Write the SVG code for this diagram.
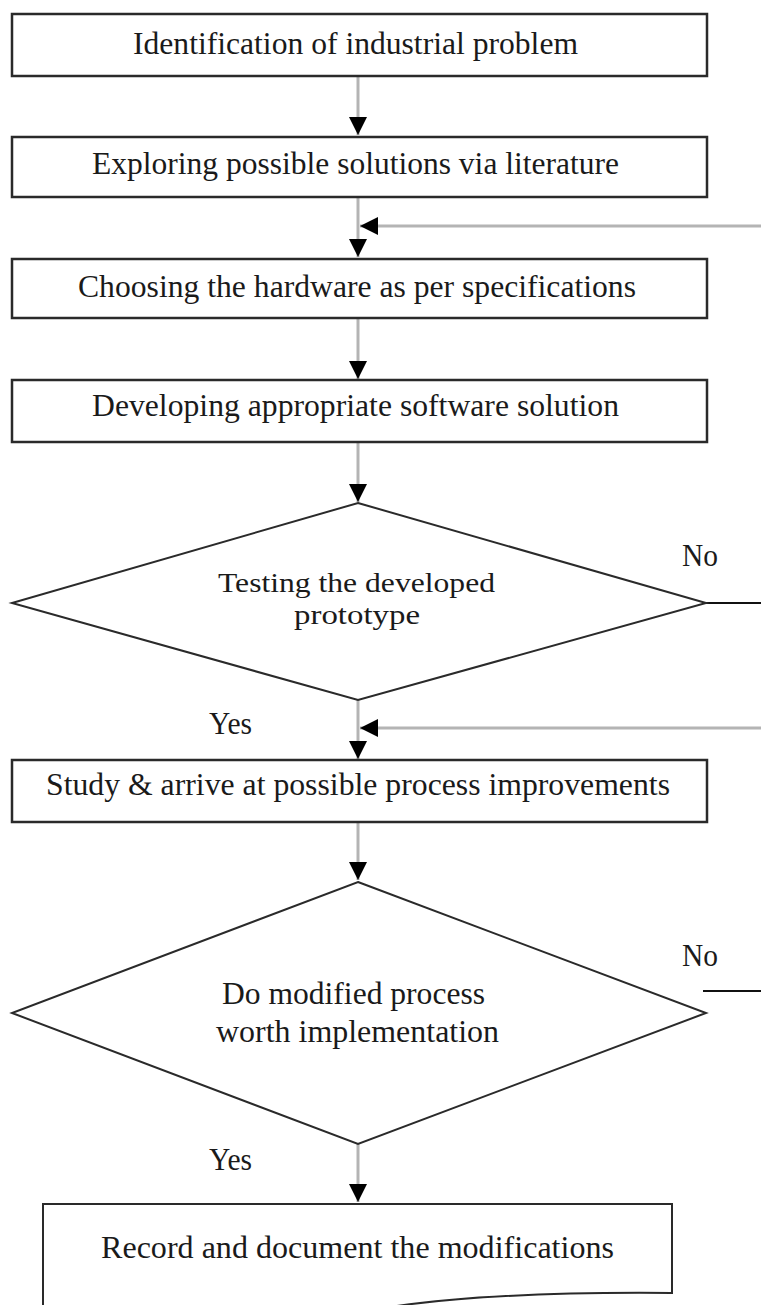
<svg xmlns="http://www.w3.org/2000/svg" width="761" height="1305" viewBox="0 0 761 1305">
<defs>
<style>
.box{fill:#fff;stroke:#2a2a2a;stroke-width:2.5}
.dia{fill:#fff;stroke:#2a2a2a;stroke-width:2}
.conn{fill:none;stroke:#b4b4b4;stroke-width:3}
.no{fill:none;stroke:#111;stroke-width:1.8}
text{font-family:"Liberation Serif","Times New Roman",serif;font-size:31px;fill:#1a1a1a}
.sm{font-size:28px}
</style>
<marker id="ah" markerUnits="userSpaceOnUse" markerWidth="18" markerHeight="18" viewBox="0 0 18 18" refX="18" refY="9" orient="auto">
<path d="M0,0 L18,9 L0,18 Z" fill="#000"/>
</marker>
</defs>
<rect width="761" height="1305" fill="#fff"/>

<g id="connectors">
<line class="conn" x1="358" y1="76" x2="358" y2="135" marker-end="url(#ah)"/>
<line class="conn" x1="358" y1="197" x2="358" y2="257" marker-end="url(#ah)"/>
<line class="conn" x1="761" y1="226" x2="360" y2="226" marker-end="url(#ah)"/>
<line class="conn" x1="358" y1="318" x2="358" y2="379" marker-end="url(#ah)"/>
<line class="conn" x1="358" y1="442" x2="358" y2="502" marker-end="url(#ah)"/>
<line class="conn" x1="358" y1="700" x2="358" y2="759" marker-end="url(#ah)"/>
<line class="conn" x1="761" y1="728" x2="360" y2="728" marker-end="url(#ah)"/>
<line class="conn" x1="358" y1="822" x2="358" y2="880" marker-end="url(#ah)"/>
<line class="conn" x1="358" y1="1144" x2="358" y2="1202" marker-end="url(#ah)"/>
<line class="no" x1="706" y1="603" x2="761" y2="603"/>
<line class="no" x1="703" y1="991" x2="761" y2="991"/>
<text x="682" y="566" textLength="36" lengthAdjust="spacingAndGlyphs">No</text>
<text x="682" y="966" textLength="36" lengthAdjust="spacingAndGlyphs">No</text>
<text x="209" y="734" textLength="43" lengthAdjust="spacingAndGlyphs">Yes</text>
<text x="209" y="1170" textLength="43" lengthAdjust="spacingAndGlyphs">Yes</text>
</g>

<g id="n1">
<rect class="box" x="12" y="14" width="695" height="62"/>
<text x="133" y="54" textLength="445" lengthAdjust="spacingAndGlyphs">Identification of industrial problem</text>
</g>
<g id="n2">
<rect class="box" x="12" y="137" width="695" height="60"/>
<text x="92" y="174" textLength="527" lengthAdjust="spacingAndGlyphs">Exploring possible solutions via literature</text>
</g>
<g id="n3">
<rect class="box" x="12" y="259" width="695" height="59"/>
<text x="78" y="297" textLength="558" lengthAdjust="spacingAndGlyphs">Choosing the hardware as per specifications</text>
</g>
<g id="n4">
<rect class="box" x="12" y="380" width="695" height="62"/>
<text x="92" y="416" textLength="527" lengthAdjust="spacingAndGlyphs">Developing appropriate software solution</text>
</g>
<g id="n5">
<polygon class="dia" points="358,503 706,603 358,700 12,603"/>
<text class="sm" x="218" y="592" textLength="277" lengthAdjust="spacingAndGlyphs">Testing the developed</text>
<text class="sm" x="294" y="624" textLength="126" lengthAdjust="spacingAndGlyphs">prototype</text>
</g>
<g id="n6">
<rect class="box" x="12" y="760" width="695" height="62"/>
<text x="46" y="795" textLength="624" lengthAdjust="spacingAndGlyphs">Study &amp; arrive at possible process improvements</text>
</g>
<g id="n7">
<polygon class="dia" points="358,882 706,1013 358,1144 12,1013"/>
<text x="222" y="1004" textLength="263" lengthAdjust="spacingAndGlyphs">Do modified process</text>
<text x="216" y="1042" textLength="283" lengthAdjust="spacingAndGlyphs">worth implementation</text>
</g>
<g id="n8">
<path class="box" style="stroke-width:2" d="M43,1312 L43,1204 L672,1204 L672,1293 C560,1292 450,1296 372,1310"/>
<text x="101" y="1258" textLength="513" lengthAdjust="spacingAndGlyphs">Record and document the modifications</text>
</g>
</svg>
